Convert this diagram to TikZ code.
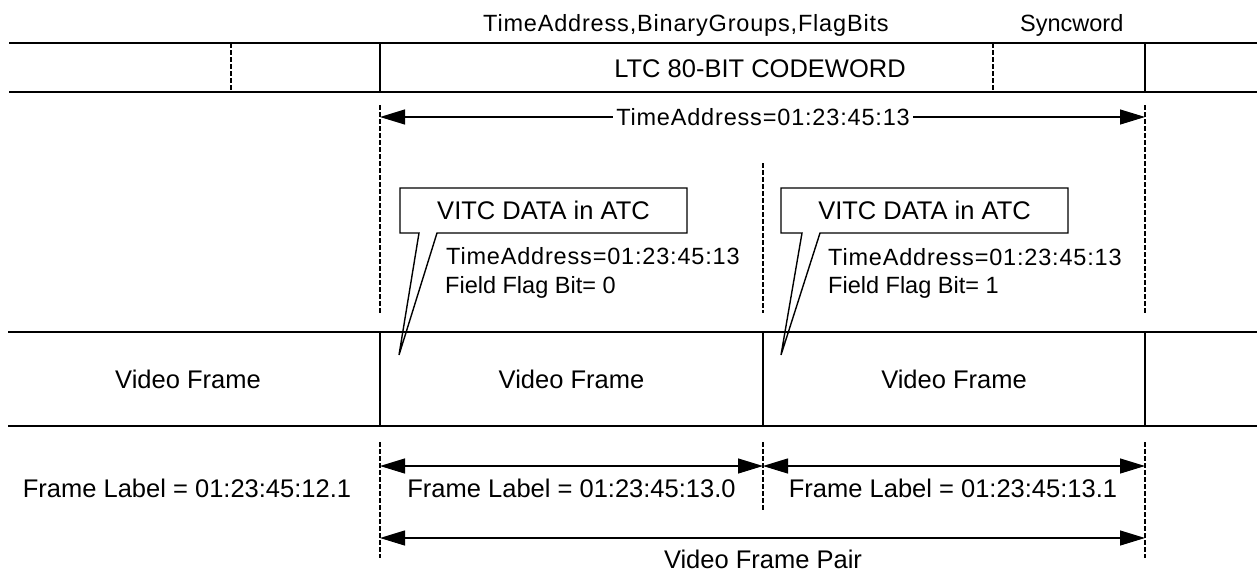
\documentclass[tikz,border=0pt]{standalone}
\usepackage{fontspec}
\setmainfont{Liberation Sans}
\newfontfamily\spaced[LetterSpace=3.5]{Liberation Sans}
\usetikzlibrary{arrows.meta}
\begin{document}
\begin{tikzpicture}[x=1pt,y=-1pt,
 frameline/.style={line width=1.8pt},
 guide/.style={line width=1.2pt,dash pattern=on 4.5pt off 2.5pt},
 dimarrow/.style={line width=1.2pt,{Triangle[length=25pt,width=15pt]}-{Triangle[length=25pt,width=15pt]}},
 big/.style={font=\fontsize{25.5}{30}\selectfont, inner sep=0pt},
 small/.style={font=\fontsize{23.5}{28}\selectfont, inner sep=0pt},
 spc/.style={font=\fontsize{23.5}{28}\selectfont\spaced, inner sep=0pt},
 callout/.style={line width=1.4pt, fill=white}]
\useasboundingbox (0,0) rectangle (1257,573);

% ---- top labels
\node[spc, anchor=base west] (lblta) at (483,31) {TimeAddress,BinaryGroups,FlagBits};
\node[small, anchor=base west] (lblsync) at (1020,31) {Syncword};

% ---- LTC row
\draw[frameline] (9,43) -- (1257,43);
\draw[frameline] (9,92) -- (1257,92);
\draw[guide] (231,43) -- (231,92);
\draw[frameline] (380,43) -- (380,92);
\draw[guide] (993,43) -- (993,92);
\draw[frameline] (1145,43) -- (1145,92);
\node[big, anchor=base] (ltc) at (760,77) {LTC 80-BIT CODEWORD};

% ---- guide lines upper
\coordinate (gA1) at (380,105); \coordinate (gA2) at (380,313);
\coordinate (gB1) at (763,163); \coordinate (gB2) at (763,313);
\coordinate (gC1) at (1145,105); \coordinate (gC2) at (1145,313);
\draw[guide] (gA1) -- (gA2);
\draw[guide] (gB1) -- (gB2);
\draw[guide] (gC1) -- (gC2);

% ---- time address arrow
\coordinate (ta1) at (380,117);
\coordinate (ta2) at (1145,117);
\draw[dimarrow] (ta1) -- (ta2);
\node[spc, fill=white, inner xsep=3pt] (talbl) at (763,117) {TimeAddress=01:23:45:13};

% ---- callouts
\draw[callout] (400,188) -- (687,188) -- (687,233) -- (437,233) -- (399,355) -- (419,233) -- (400,233) -- cycle;
\node[big] (vitc1) at (543.5,210.5) {VITC DATA in ATC};
\node[spc, anchor=base west] (ta1txt) at (446,264) {TimeAddress=01:23:45:13};
\node[small, anchor=base west] (ff1txt) at (445,293) {Field Flag Bit= 0};

\draw[callout] (781,188) -- (1068,188) -- (1068,233) -- (820,233) -- (781,355) -- (802,233) -- (781,233) -- cycle;
\node[big] (vitc2) at (924.5,210.5) {VITC DATA in ATC};
\node[spc, anchor=base west] (ta2txt) at (828,265) {TimeAddress=01:23:45:13};
\node[small, anchor=base west] (ff2txt) at (828,293) {Field Flag Bit= 1};

% ---- video frame row
\draw[frameline] (8,332) -- (1257,332);
\draw[frameline] (8,426) -- (1257,426);
\draw[frameline] (380,332) -- (380,426);
\draw[frameline] (763,332) -- (763,426);
\draw[frameline] (1145,332) -- (1145,426);
\node[big, anchor=base] (vf0) at (188,388) {Video Frame};
\node[big, anchor=base] (vf1) at (571.5,388) {Video Frame};
\node[big, anchor=base] (vf2) at (954,388) {Video Frame};

% ---- lower guides
\coordinate (hA1) at (380,442); \coordinate (hA2) at (380,558);
\coordinate (hB1) at (763,442); \coordinate (hB2) at (763,510);
\coordinate (hC1) at (1145,442); \coordinate (hC2) at (1145,558);
\draw[guide] (hA1) -- (hA2);
\draw[guide] (hB1) -- (hB2);
\draw[guide] (hC1) -- (hC2);

% ---- frame label arrows
\coordinate (fa1) at (380,466); \coordinate (fa2) at (763,466); \coordinate (fa3) at (1145,466);
\draw[dimarrow] (fa1) -- (fa2);
\draw[dimarrow] (fa2) -- (fa3);
\node[big, anchor=base] (fl0) at (187,497) {Frame Label = 01:23:45:12.1};
\node[big, anchor=base] (fl1) at (571.5,497) {Frame Label = 01:23:45:13.0};
\node[big, anchor=base] (fl2) at (953,497) {Frame Label = 01:23:45:13.1};

% ---- pair arrow
\coordinate (pa1) at (380,538); \coordinate (pa2) at (1145,538);
\draw[dimarrow] (pa1) -- (pa2);
\node[big, anchor=base] (pair) at (763,568) {Video Frame Pair};
\end{tikzpicture}
\end{document}
